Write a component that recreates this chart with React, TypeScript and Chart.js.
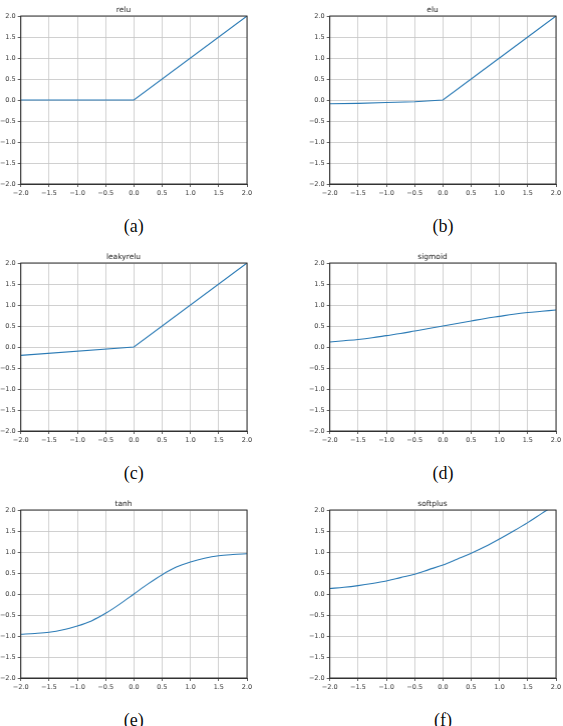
import React, { useEffect, useRef } from "react";
import { Chart, registerables } from "chart.js";

Chart.register(...registerables);

// ---- data ----
const axisTicks = [-2, -1.5, -1, -0.5, 0, 0.5, 1, 1.5, 2];
const tickLabels = ["\u22122.0", "\u22121.5", "\u22121.0", "\u22120.5", "0.0", "0.5", "1.0", "1.5", "2.0"];

const xRelu = [-2, 0, 2];
const yRelu = [0, 0, 2];

const xElu = [-2, -1.5, -1, -0.5, 0, 1, 2];
const yElu = [-0.09, -0.08, -0.06, -0.04, 0, 1, 2];

const xLeaky = [-2, 0, 2];
const yLeaky = [-0.2, 0, 2];

const xSmooth = [-2, -1.75, -1.5, -1.25, -1, -0.75, -0.5, -0.25, 0, 0.25, 0.5, 0.75, 1, 1.25, 1.5, 1.75, 2];
const ySigmoid = [0.12, 0.15, 0.18, 0.22, 0.27, 0.32, 0.38, 0.44, 0.5, 0.56, 0.62, 0.68, 0.73, 0.78, 0.82, 0.85, 0.88];
const yTanh = [-0.96, -0.94, -0.91, -0.85, -0.76, -0.64, -0.46, -0.24, 0, 0.24, 0.46, 0.64, 0.76, 0.85, 0.91, 0.94, 0.96];
const ySoftplus = [0.13, 0.16, 0.2, 0.25, 0.31, 0.39, 0.47, 0.58, 0.69, 0.83, 0.97, 1.13, 1.31, 1.5, 1.7, 1.92, 2.13];

const titles = ["relu", "elu", "leakyrelu", "sigmoid", "tanh", "softplus"];
const captions = ["(a)", "(b)", "(c)", "(d)", "(e)", "(f)"];
const seriesX = [xRelu, xElu, xLeaky, xSmooth, xSmooth, xSmooth];
const seriesY = [yRelu, yElu, yLeaky, ySigmoid, yTanh, ySoftplus];
const smooth = [false, false, false, true, true, true];

// ---- layout ----
const Y_AXIS_W = 20.7;
const X_AXIS_H = 16;
const TITLE_H = 16;
const AREA_W = 226;
const AREA_H = 168;
const PAD_R = 8;
const CANVAS_W = Y_AXIS_W + AREA_W + PAD_R;
const CANVAS_H = TITLE_H + AREA_H + X_AXIS_H;
const colAreaLeft = [20.7, 330];
const rowAreaTop = [16, 263, 510];

const frame = {
  id: "frame",
  afterDraw(chart: any) {
    const { ctx, chartArea } = chart;
    ctx.save();
    ctx.strokeStyle = "#333";
    ctx.lineWidth = 1;
    ctx.strokeRect(chartArea.left, chartArea.top, chartArea.right - chartArea.left, chartArea.bottom - chartArea.top);
    ctx.restore();
  },
};

function tickCb(value: number) {
  const i = axisTicks.findIndex((t) => Math.abs(t - value) < 1e-6);
  return i >= 0 ? tickLabels[i] : "";
}

function Plot({ idx }: { idx: number }) {
  const ref = useRef<HTMLCanvasElement>(null);
  useEffect(() => {
    const xsArr = seriesX[idx];
    const ysArr = seriesY[idx];
    const data = xsArr.map((x, i) => ({ x, y: ysArr[i] }));
    const scaleCommon = {
      type: "linear" as const,
      min: -2,
      max: 2,
      afterBuildTicks(scale: any) {
        scale.ticks = axisTicks.map((v) => ({ value: v }));
      },
      grid: {
        color: "#c4c4c4",
        lineWidth: 0.8,
        tickColor: "#333",
        tickLength: 3,
      },
      border: { color: "#333", width: 1 },
      ticks: {
        callback: tickCb,
        font: { family: "DejaVu Sans", size: 6.5 },
        color: "#333",
        padding: 2,
        maxRotation: 0,
        autoSkip: false,
      },
    };
    const chart = new Chart(ref.current!, {
      type: "line",
      data: {
        datasets: [
          {
            data,
            borderColor: "#2a7ab5",
            borderWidth: 1.1,
            pointRadius: 0,
            fill: false,
            cubicInterpolationMode: smooth[idx] ? "monotone" : "default",
          },
        ],
      },
      options: {
        animation: false,
        responsive: false,
        devicePixelRatio: 1,
        layout: { padding: { left: 0, right: PAD_R, top: 0, bottom: 0 } },
        plugins: {
          legend: { display: false },
          tooltip: { enabled: false },
          title: {
            display: true,
            text: titles[idx],
            font: { family: "DejaVu Sans", size: 7.5, weight: "normal" },
            color: "#222",
            padding: { top: 5.5, bottom: 1.5 },
          },
        },
        scales: {
          x: {
            ...scaleCommon,
            afterFit(scale: any) {
              scale.height = X_AXIS_H;
            },
          },
          y: {
            ...scaleCommon,
            afterFit(scale: any) {
              scale.width = Y_AXIS_W;
            },
          },
        },
      } as any,
      plugins: [frame],
    });
    return () => chart.destroy();
  }, [idx]);

  const col = idx % 2;
  const row = Math.floor(idx / 2);
  const left = colAreaLeft[col] - Y_AXIS_W;
  const top = rowAreaTop[row] - TITLE_H;
  return (
    <>
      <canvas
        ref={ref}
        width={CANVAS_W}
        height={CANVAS_H}
        style={{ position: "absolute", left, top, width: CANVAS_W, height: CANVAS_H }}
      />
      <div
        style={{
          position: "absolute",
          left: colAreaLeft[col],
          width: AREA_W,
          top: rowAreaTop[row] + 199,
          textAlign: "center",
          fontFamily: "'Liberation Serif', 'DejaVu Serif', serif",
          fontSize: 18,
          lineHeight: "22px",
          color: "#111",
        }}
      >
        {captions[idx]}
      </div>
    </>
  );
}

export default function App() {
  return (
    <div
      style={{
        position: "absolute",
        left: 0,
        top: 0,
        width: 563,
        height: 726,
        overflow: "hidden",
        background: "#fff",
      }}
    >
      {titles.map((_, i) => (
        <Plot key={i} idx={i} />
      ))}
    </div>
  );
}
